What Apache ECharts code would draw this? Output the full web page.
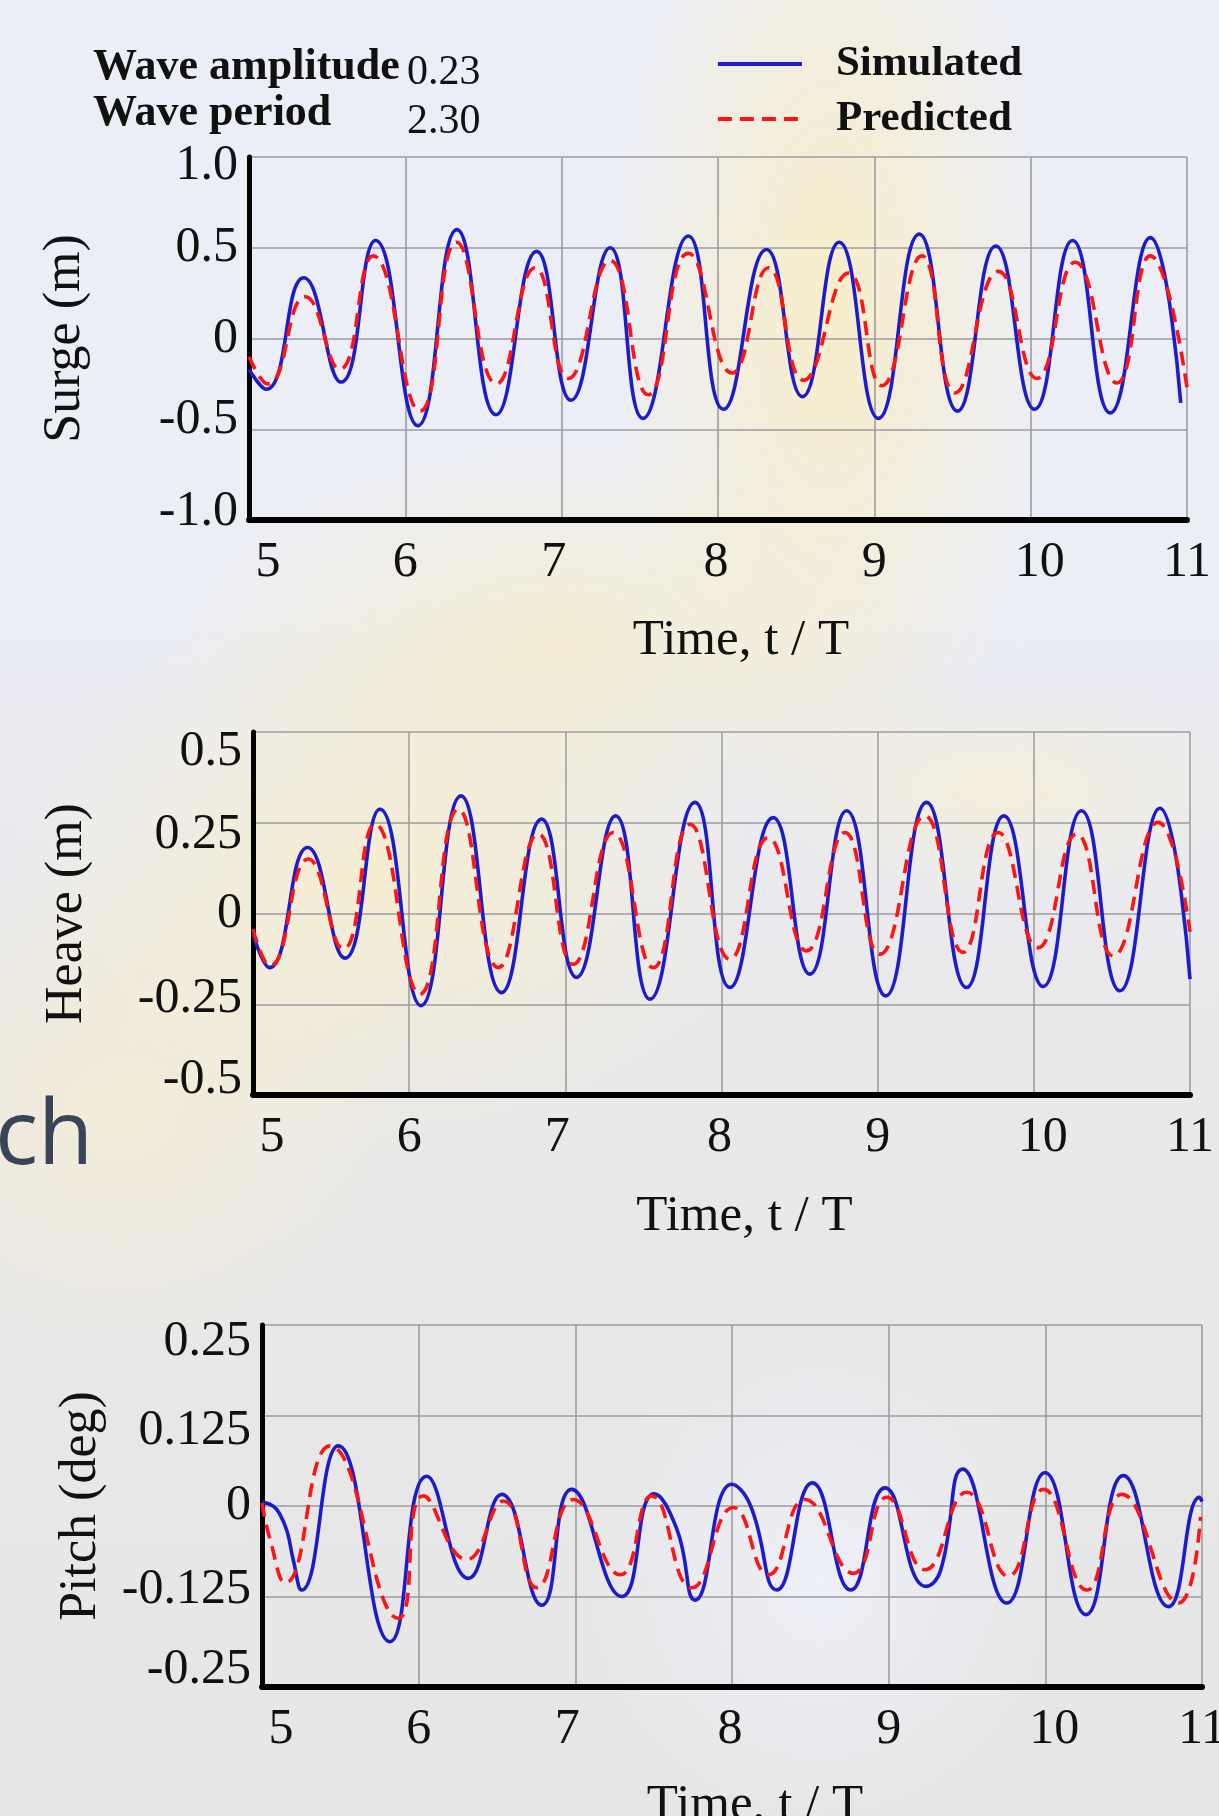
<!DOCTYPE html>
<html>
<head>
<meta charset="utf-8">
<script src="https://cdn.jsdelivr.net/npm/echarts@6/dist/echarts.min.js"></script>
<style>
html,body{margin:0;padding:0;}
body{
  width:1219px;height:1816px;overflow:hidden;
  background:
    radial-gradient(ellipse 220px 520px at 830px 300px, rgba(250,238,196,0.9), rgba(250,238,196,0) 100%),
    radial-gradient(ellipse 380px 200px at 560px 640px, rgba(248,238,200,0.75), rgba(248,238,200,0) 100%),
    radial-gradient(ellipse 380px 280px at 380px 880px, rgba(247,238,206,0.9), rgba(247,238,206,0) 100%),
    radial-gradient(ellipse 300px 260px at 120px 1110px, rgba(244,236,214,0.95), rgba(244,236,214,0) 100%),
    radial-gradient(ellipse 260px 110px at 1000px 790px, rgba(247,239,212,0.75), rgba(247,239,212,0) 100%),
    radial-gradient(ellipse 240px 260px at 820px 1580px, rgba(238,240,248,0.95), rgba(238,240,248,0) 100%),
    linear-gradient(180deg, #eceef7 0%, #eceef6 32%, #e9e9eb 56%, #e6e6e6 100%);
}
#chart{width:1219px;height:1816px;}
</style>
</head>
<body>
<div id="chart"></div>
<script>
// ---------- data ----------
const xTicks = [5, 6, 7, 8, 9, 10, 11];

const surgeTicks = [-1, -0.5, 0, 0.5, 1];
const surgeTickLabels = ['-1.0', '-0.5', '0', '0.5', '1.0'];
const heaveTicks = [-0.5, -0.25, 0, 0.25, 0.5];
const heaveTickLabels = ['-0.5', '-0.25', '0', '0.25', '0.5'];
const pitchTicks = [-0.25, -0.125, 0, 0.125, 0.25];
const pitchTickLabels = ['-0.25', '-0.125', '0', '0.125', '0.25'];

const surgeSimulated = [
  [5.00,-0.17],[5.11,-0.28],[5.35,0.335],[5.59,-0.24],[5.81,0.54],[6.08,-0.48],
  [6.33,0.60],[6.58,-0.42],[6.84,0.48],[7.06,-0.34],[7.31,0.50],[7.52,-0.44],
  [7.81,0.565],[8.035,-0.39],[8.31,0.49],[8.54,-0.32],[8.775,0.53],[9.026,-0.44],
  [9.287,0.575],[9.532,-0.40],[9.777,0.51],[10.025,-0.39],[10.268,0.54],[10.509,-0.41],
  [10.765,0.556],[10.96,-0.355]
];
const surgePredicted = [
  [5.00,-0.10],[5.12,-0.25],[5.36,0.23],[5.58,-0.17],[5.795,0.455],[6.094,-0.40],
  [6.328,0.53],[6.584,-0.25],[6.83,0.39],[7.043,-0.22],[7.309,0.43],[7.554,-0.31],
  [7.81,0.47],[8.09,-0.19],[8.323,0.39],[8.547,-0.23],[8.834,0.36],[9.048,-0.26],
  [9.304,0.455],[9.517,-0.30],[9.794,0.37],[10.04,-0.22],[10.285,0.42],[10.551,-0.245],
  [10.765,0.455],[11.0,-0.27]
];

const heaveSimulated = [
  [5.00,-0.057],[5.105,-0.149],[5.35,0.182],[5.589,-0.123],[5.813,0.287],[6.076,-0.254],
  [6.332,0.324],[6.592,-0.218],[6.848,0.26],[7.072,-0.176],[7.322,0.269],[7.542,-0.236],
  [7.83,0.306],[8.054,-0.204],[8.331,0.264],[8.566,-0.167],[8.801,0.283],[9.052,-0.227],
  [9.313,0.306],[9.569,-0.204],[9.808,0.269],[10.06,-0.201],[10.305,0.283],[10.551,-0.213],
  [10.807,0.29],[11.0,-0.181]
];
const heavePredicted = [
  [5.00,-0.043],[5.109,-0.144],[5.354,0.15],[5.578,-0.098],[5.781,0.246],[6.069,-0.222],
  [6.315,0.287],[6.571,-0.149],[6.827,0.219],[7.051,-0.14],[7.307,0.223],[7.563,-0.149],
  [7.798,0.246],[8.054,-0.126],[8.299,0.209],[8.545,-0.103],[8.79,0.223],[9.014,-0.112],
  [9.302,0.269],[9.547,-0.107],[9.771,0.223],[10.027,-0.094],[10.273,0.219],[10.508,-0.117],
  [10.796,0.251],[11.0,-0.05]
];

const pitchSimulated = [
  [5.00,0.005],[5.07,0.0],[5.115,-0.012],[5.16,-0.035],[5.20,-0.075],[5.253,-0.116],
  [5.487,0.083],[5.817,-0.1875],[6.052,0.041],[6.318,-0.10],[6.53,0.016],[6.786,-0.137],
  [6.977,0.023],[7.297,-0.125],[7.503,0.017],[7.648,-0.032],[7.765,-0.13],[7.998,0.030],
  [8.115,0.002],[8.286,-0.116],[8.513,0.032],[8.758,-0.116],[8.977,0.025],[9.239,-0.111],
  [9.33,-0.09],[9.473,0.051],[9.754,-0.134],[9.998,0.046],[10.26,-0.15],[10.498,0.042],
  [10.786,-0.139],[10.985,0.012],[11.0,0.006]
];
const pitchPredicted = [
  [5.00,0.004],[5.05,-0.045],[5.15,-0.106],[5.434,0.083],[5.871,-0.155],[6.03,0.014],
  [6.307,-0.074],[6.541,0.007],[6.754,-0.113],[6.988,0.009],[7.286,-0.095],[7.488,0.014],
  [7.744,-0.113],[8.009,-0.002],[8.232,-0.095],[8.466,0.009],[8.775,-0.093],[8.988,0.012],
  [9.232,-0.088],[9.498,0.019],[9.764,-0.097],[9.988,0.023],[10.265,-0.116],[10.488,0.016],
  [10.85,-0.134],[10.99,-0.015]
];

// ---------- styling ----------
const SERIF = '"Liberation Serif", "Times New Roman", serif';
const BLUE = '#1c1cc9';
const RED = '#ff1414';

// label nudges (px) that mimic the reference's placement of tick labels
const xLabelShift = [19, 0, -8, -2, 0, 9, 0];          // horizontal, + = right
const surgeLabelShift = [-8, -9, 0, 0, 9];              // vertical, + = down
const heaveLabelShift = [-15, -5, 0, 12, 20];
const pitchLabelShift = [-17, -7, 0, 15, 17];

function shiftedRich(shifts, horizontal) {
  const rich = {};
  shifts.forEach((d, i) => {
    const p = Math.abs(d) * 2;
    let pad;
    if (horizontal) pad = d >= 0 ? [0, 0, 0, p] : [0, p, 0, 0];
    else pad = d >= 0 ? [p, 0, 0, 0] : [0, 0, p, 0];
    rich['s' + i] = { fontSize: 50, fontFamily: SERIF, color: '#111', padding: pad };
  });
  return rich;
}

function yFormatter(ticks, labels) {
  return function (v) {
    const i = ticks.findIndex(t => Math.abs(t - v) < 1e-9);
    return i >= 0 ? '{s' + i + '|' + labels[i] + '}' : '';
  };
}
function xFormatter(v) {
  const i = xTicks.findIndex(t => Math.abs(t - v) < 1e-9);
  return i >= 0 ? '{s' + i + '|' + xTicks[i] + '}' : '';
}

function xAxisFor(gridIndex, nameGap) {
  return {
    type: 'value', gridIndex: gridIndex,
    min: xTicks[0], max: xTicks[xTicks.length - 1], interval: 1,
    axisLine: { onZero: false, lineStyle: { color: '#000', width: 6 } },
    axisTick: { show: false },
    splitLine: { show: true, lineStyle: { color: '#9d9d9d', width: 1.6 } },
    axisLabel: { fontSize: 50, fontFamily: SERIF, color: '#111', margin: 18,
      formatter: xFormatter, rich: shiftedRich(xLabelShift, true) },
    name: 'Time, t / T', nameLocation: 'middle', nameGap: nameGap,
    nameTextStyle: { fontSize: 51, fontFamily: SERIF, color: '#111', padding: [0, 0, 0, 46] }
  };
}

function yAxisFor(gridIndex, ticks, labels, shifts, name, nameGap) {
  return {
    type: 'value', gridIndex: gridIndex,
    min: ticks[0], max: ticks[ticks.length - 1], interval: ticks[1] - ticks[0],
    axisLine: { show: true, onZero: false, lineStyle: { color: '#000', width: 5 } },
    axisTick: { show: false },
    splitLine: { show: true, lineStyle: { color: '#9d9d9d', width: 1.6 } },
    axisLabel: { fontSize: 50, fontFamily: SERIF, color: '#111', margin: 11,
      formatter: yFormatter(ticks, labels), rich: shiftedRich(shifts, false) },
    name: name, nameLocation: 'middle', nameRotate: 90, nameGap: nameGap,
    nameTextStyle: { fontSize: 52, fontFamily: SERIF, color: '#111' }
  };
}

function lineSeries(name, idx, data, dashed) {
  return {
    name: name, type: 'line', xAxisIndex: idx, yAxisIndex: idx,
    data: data, symbol: 'none', smooth: 0.5, silent: true, animation: false,
    lineStyle: dashed
      ? { color: RED, width: 3.6, type: [14, 8] }
      : { color: BLUE, width: 3.6, type: 'solid' },
    itemStyle: { color: dashed ? RED : BLUE },
    z: dashed ? 4 : 3
  };
}

const chart = echarts.init(document.getElementById('chart'), null, { renderer: 'canvas' });
chart.setOption({
  backgroundColor: 'transparent',
  animation: false,
  grid: [
    { left: 249, top: 157, width: 938, height: 363, containLabel: false, outerBoundsMode: 'none' },
    { left: 253, top: 732, width: 937, height: 363, containLabel: false, outerBoundsMode: 'none' },
    { left: 262, top: 1325, width: 940, height: 362, containLabel: false, outerBoundsMode: 'none' }
  ],
  xAxis: [ xAxisFor(0, 95), xAxisFor(1, 96), xAxisFor(2, 93) ],
  yAxis: [
    yAxisFor(0, surgeTicks, surgeTickLabels, surgeLabelShift, 'Surge (m)', 158),
    yAxisFor(1, heaveTicks, heaveTickLabels, heaveLabelShift, 'Heave (m)', 160),
    yAxisFor(2, pitchTicks, pitchTickLabels, pitchLabelShift, 'Pitch (deg)', 155)
  ],
  legend: {
    orient: 'vertical', left: 711, top: 36,
    itemWidth: 84, itemHeight: 14, itemGap: 9,
    data: ['Simulated', 'Predicted'],
    itemStyle: { opacity: 0 },
    lineStyle: { width: 3.8 },
    textStyle: { fontSize: 43, fontWeight: 'bold', fontFamily: SERIF, color: '#111',
      lineHeight: 46, padding: [0, 0, 0, 29] }
  },
  graphic: [
    { type: 'text', x: 93, y: 68, silent: true,
      style: { text: 'Wave amplitude', font: 'bold 44px ' + SERIF, fill: '#111', verticalAlign: 'middle' } },
    { type: 'text', x: 407, y: 73, silent: true,
      style: { text: '0.23', font: '42px ' + SERIF, fill: '#111', verticalAlign: 'middle' } },
    { type: 'text', x: 93, y: 114, silent: true,
      style: { text: 'Wave period', font: 'bold 44px ' + SERIF, fill: '#111', verticalAlign: 'middle' } },
    { type: 'text', x: 407, y: 122, silent: true,
      style: { text: '2.30', font: '42px ' + SERIF, fill: '#111', verticalAlign: 'middle' } },
    { type: 'text', x: -5, y: 1138, silent: true,
      style: { text: 'ch', font: '90px "Open Sans", "Noto Sans", sans-serif', fill: '#3a4459', verticalAlign: 'middle' } }
  ],
  series: [
    lineSeries('Simulated', 0, surgeSimulated, false),
    lineSeries('Predicted', 0, surgePredicted, true),
    lineSeries('Simulated', 1, heaveSimulated, false),
    lineSeries('Predicted', 1, heavePredicted, true),
    lineSeries('Simulated', 2, pitchSimulated, false),
    lineSeries('Predicted', 2, pitchPredicted, true)
  ]
});
</script>
</body>
</html>
